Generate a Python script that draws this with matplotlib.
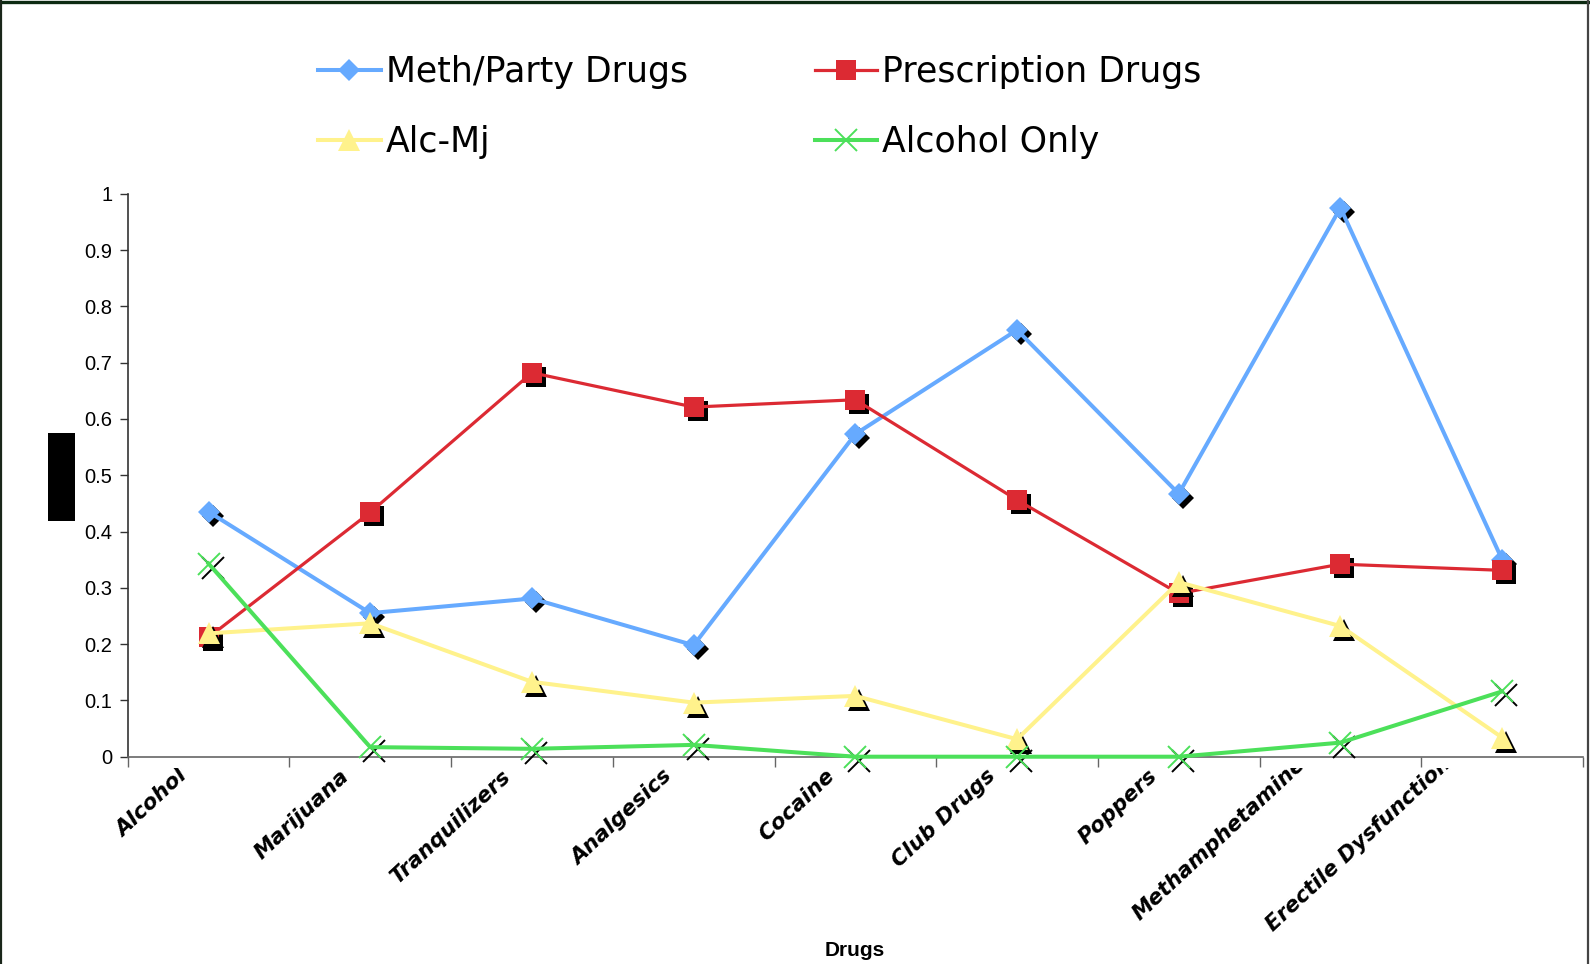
import matplotlib
matplotlib.use("Agg")
import matplotlib.pyplot as plt
from matplotlib.lines import Line2D
from matplotlib.patches import Rectangle
from matplotlib.transforms import ScaledTranslation, Bbox, blended_transform_factory

# ---- data -------------------------------------------------------------
categories = ["Alcohol", "Marijuana", "Tranquilizers", "Analgesics", "Cocaine",
              "Club Drugs", "Poppers", "Methamphetamine", "Erectile Dysfunction"]

meth_party = [0.435, 0.255, 0.281, 0.198, 0.573, 0.758, 0.467, 0.975, 0.350]
prescription = [0.212, 0.434, 0.682, 0.621, 0.634, 0.456, 0.290, 0.342, 0.331]
alc_mj = [0.219, 0.237, 0.133, 0.096, 0.108, 0.031, 0.310, 0.232, 0.034]
alcohol_only = [0.343, 0.017, 0.014, 0.021, 0.0, 0.0, 0.0, 0.025, 0.116]

series_names = ["Meth/Party Drugs", "Prescription Drugs", "Alc-Mj", "Alcohol Only"]
y_ticks = [0, 0.1, 0.2, 0.3, 0.4, 0.5, 0.6, 0.7, 0.8, 0.9, 1]
y_tick_labels = ["0", "0.1", "0.2", "0.3", "0.4", "0.5", "0.6", "0.7", "0.8", "0.9", "1"]
x_title = "Drugs"

# ---- figure / axes ----------------------------------------------------
W, H, DPI = 1590, 964, 100
fig = plt.figure(figsize=(W / DPI, H / DPI), dpi=DPI)
fig.patch.set_facecolor("white")

ax_left, ax_right, ax_top, ax_bottom = 127.7, 1583.0, 193.7, 756.7
ax = fig.add_axes([ax_left / W, 1 - ax_bottom / H,
                   (ax_right - ax_left) / W, (ax_bottom - ax_top) / H])

n = len(categories)
xs = list(range(n))
ax.set_xlim(-0.5, n - 0.5)
ax.set_ylim(0, 1)

for side in ("top", "right"):
    ax.spines[side].set_visible(False)
ax.spines["left"].set_color("#333333")
ax.spines["bottom"].set_color("#666666")
ax.spines["left"].set_linewidth(1.2)
ax.spines["bottom"].set_linewidth(1.2)

ax.set_yticks(y_ticks)
ax.set_yticklabels(y_tick_labels, family="Liberation Sans", fontsize=14.5)
ax.tick_params(axis="y", direction="out", length=6, width=1, color="#333333", pad=5)

ax.set_xticks([i - 0.5 for i in range(n + 1)])
ax.set_xticklabels([])
ax.tick_params(axis="x", direction="out", length=7, width=1, color="#666666")

# ---- series -----------------------------------------------------------
styles = [
    dict(color="#66AAFF", marker="D", ms=11, lw=2.9, mew=0),
    dict(color="#DC2A33", marker="s", ms=14, lw=2.3, mew=0),
    dict(color="#FFF28C", marker="^", ms=16.5, lw=2.9, mew=0),
    dict(color="#4CE05A", marker="x", ms=16, lw=2.9, mew=1.4),
]
all_series = [meth_party, prescription, alc_mj, alcohol_only]

shadow_tf = ax.transData + ScaledTranslation(4 / DPI, -4 / DPI, fig.dpi_scale_trans)

handles = []
for k, (vals, st) in enumerate(zip(all_series, styles)):
    z = 3 + k * 3
    # drop shadow under each marker
    ax.plot(xs, vals, linestyle="none", marker=st["marker"], ms=st["ms"],
            color="black", mec="black", mfc="black",
            mew=st["mew"] if st["marker"] == "x" else 0,
            transform=shadow_tf, zorder=z, clip_on=False)
    ax.plot(xs, vals, linestyle="-", color=st["color"], lw=st["lw"],
            zorder=z + 1, clip_on=False, solid_joinstyle="round")
    ax.plot(xs, vals, linestyle="none", marker=st["marker"], ms=st["ms"],
            color=st["color"], mec=st["color"], mfc=st["color"], mew=st["mew"],
            zorder=z + 2, clip_on=False)
    handles.append(Line2D([0], [0], color=st["color"], lw=st["lw"],
                          marker=st["marker"], ms=st["ms"], mec=st["color"],
                          mfc=st["color"], mew=st["mew"]))

# ---- category labels (rotated, clipped like a fixed-height label band) --
label_tf_base = blended_transform_factory(ax.transData, ax.transAxes)
clip = Bbox.from_extents(0, 0, W, H - 768)
label_shift = {7: (-14, 12), 8: (-30, 12)}
for i, name in enumerate(categories):
    dx, dy = label_shift.get(i, (0, 0))
    tf = label_tf_base + ScaledTranslation((-31 + dx) / DPI, (-9 + dy) / DPI,
                                           fig.dpi_scale_trans)
    t = ax.text(i, 0, name, transform=tf, rotation=43, rotation_mode="anchor",
                ha="right", va="top", fontsize=15.5, fontweight="bold",
                fontstyle="italic", family="DejaVu Sans", color="black")
    t.set_clip_path(None)
    t.set_clip_box(clip)
    t.set_clip_on(True)

fig.text(855 / W, 1 - 951 / H, x_title, ha="center", va="center",
         fontsize=15, fontweight="bold", family="Liberation Sans")

# ---- legend -----------------------------------------------------------
order = [0, 2, 1, 3]
leg = ax.legend([handles[i] for i in order], [series_names[i] for i in order],
                ncol=2, loc="upper left", bbox_to_anchor=(318 / W, 1 - 55 / H),
                bbox_transform=fig.transFigure, frameon=False,
                prop=dict(family="DejaVu Sans", size=25),
                handlelength=1.8, handletextpad=0.15, columnspacing=3.65,
                labelspacing=1.05, borderpad=0, borderaxespad=0)

# ---- axis title block and frame ---------------------------------------
fig.add_artist(Rectangle((48 / W, 1 - 521 / H), 27 / W, 88 / H,
                         transform=fig.transFigure, color="black", lw=0))
fig.add_artist(Line2D([0, 1], [1 - 1.5 / H, 1 - 1.5 / H], transform=fig.transFigure,
                      color="#0c2a12", lw=2.4))
fig.add_artist(Line2D([1 / W, 1 / W], [0, 1], transform=fig.transFigure,
                      color="#1a261a", lw=1.6))
fig.add_artist(Line2D([1 - 2 / W, 1 - 2 / W], [0, 1], transform=fig.transFigure,
                      color="#444444", lw=1.6))

fig.savefig("out.png", dpi=DPI)
